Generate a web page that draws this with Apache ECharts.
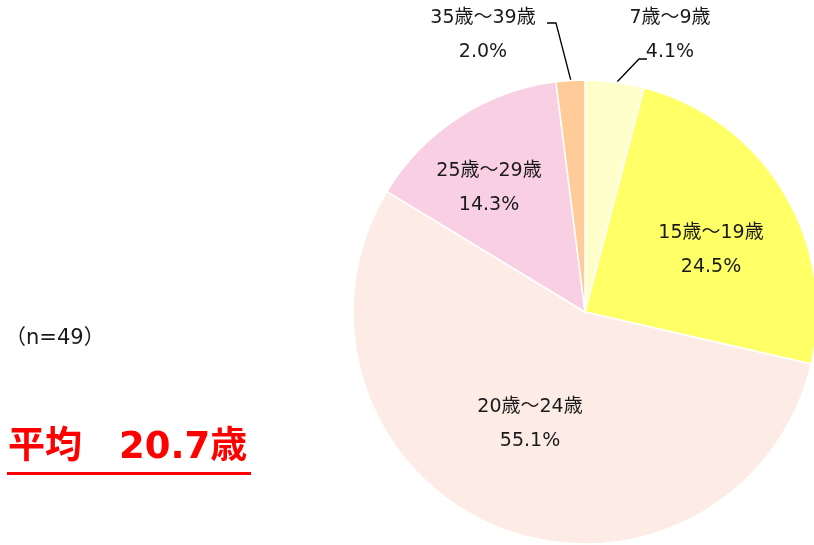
<!DOCTYPE html>
<html>
<head>
<meta charset="utf-8">
<script src="https://cdn.jsdelivr.net/npm/echarts@6/dist/echarts.min.js"></script>
<style>
  html, body { margin: 0; padding: 0; background: #fff; }
  #chart { width: 814px; height: 545px; }
</style>
</head>
<body>
<div id="chart"></div>
<script>
// Age groups (clockwise from 12 o'clock) and their shares in percent
const categories = ['7歳～9歳', '15歳～19歳', '20歳～24歳', '25歳～29歳', '35歳～39歳'];
const shares = [4.1, 24.5, 55.1, 14.3, 2.0];
const sliceColors = ['#FFFFCC', '#FFFF66', '#FDECE6', '#F9CFE3', '#FFCC99'];
const sampleNote = '（n=49）';
const averageText = '平均　20.7歳';

// Label anchors (centre of the two-line label) and leader lines
const labelSpots = [
  { x: 670, y: 35, line: [[617, 82], [639, 59], [647, 59]] },
  { x: 711, y: 250 },
  { x: 530, y: 424 },
  { x: 489, y: 188 },
  { x: 483, y: 35, line: [[571, 81], [556, 23], [547, 23]] }
];

const FONT = '"DejaVu Sans", "Noto Sans CJK JP", sans-serif';

const chart = echarts.init(document.getElementById('chart'), null, { renderer: 'canvas' });

chart.setOption({
  animation: false,
  backgroundColor: '#ffffff',
  series: [{
    type: 'pie',
    center: [585, 312],
    radius: 232,
    startAngle: 90,
    clockwise: true,
    avoidLabelOverlap: false,
    itemStyle: { borderColor: '#ffffff', borderWidth: 1.5 },
    label: {
      show: true,
      position: 'outside',
      formatter: p => p.name + '\n' + p.value.toFixed(1) + '%',
      color: '#1a1a1a',
      fontFamily: FONT,
      fontSize: 19,
      lineHeight: 34,
      align: 'center'
    },
    labelLine: {
      show: true,
      lineStyle: { color: '#000000', width: 1.3 }
    },
    labelLayout: function (params) {
      const spot = labelSpots[params.dataIndex];
      const out = {
        x: spot.x,
        y: spot.y,
        align: 'center',
        verticalAlign: 'middle'
      };
      if (spot.line) out.labelLinePoints = spot.line;
      return out;
    },
    data: categories.map((name, i) => ({
      name: name,
      value: shares[i],
      itemStyle: { color: sliceColors[i] },
      labelLine: { show: !!labelSpots[i].line }
    }))
  }],
  graphic: [
    {
      type: 'text',
      left: 5,
      top: 328,
      style: {
        text: sampleNote,
        font: '21px ' + FONT,
        fill: '#1a1a1a'
      }
    },
    {
      type: 'text',
      left: 8,
      top: 430,
      style: {
        text: averageText,
        font: 'bold 37px "DejaVu Sans", "Noto Sans CJK JP", sans-serif',
        fill: '#FF0000'
      }
    },
    {
      type: 'rect',
      shape: { x: 7, y: 472, width: 244, height: 3 },
      style: { fill: '#FF0000' }
    }
  ]
});
</script>
</body>
</html>
